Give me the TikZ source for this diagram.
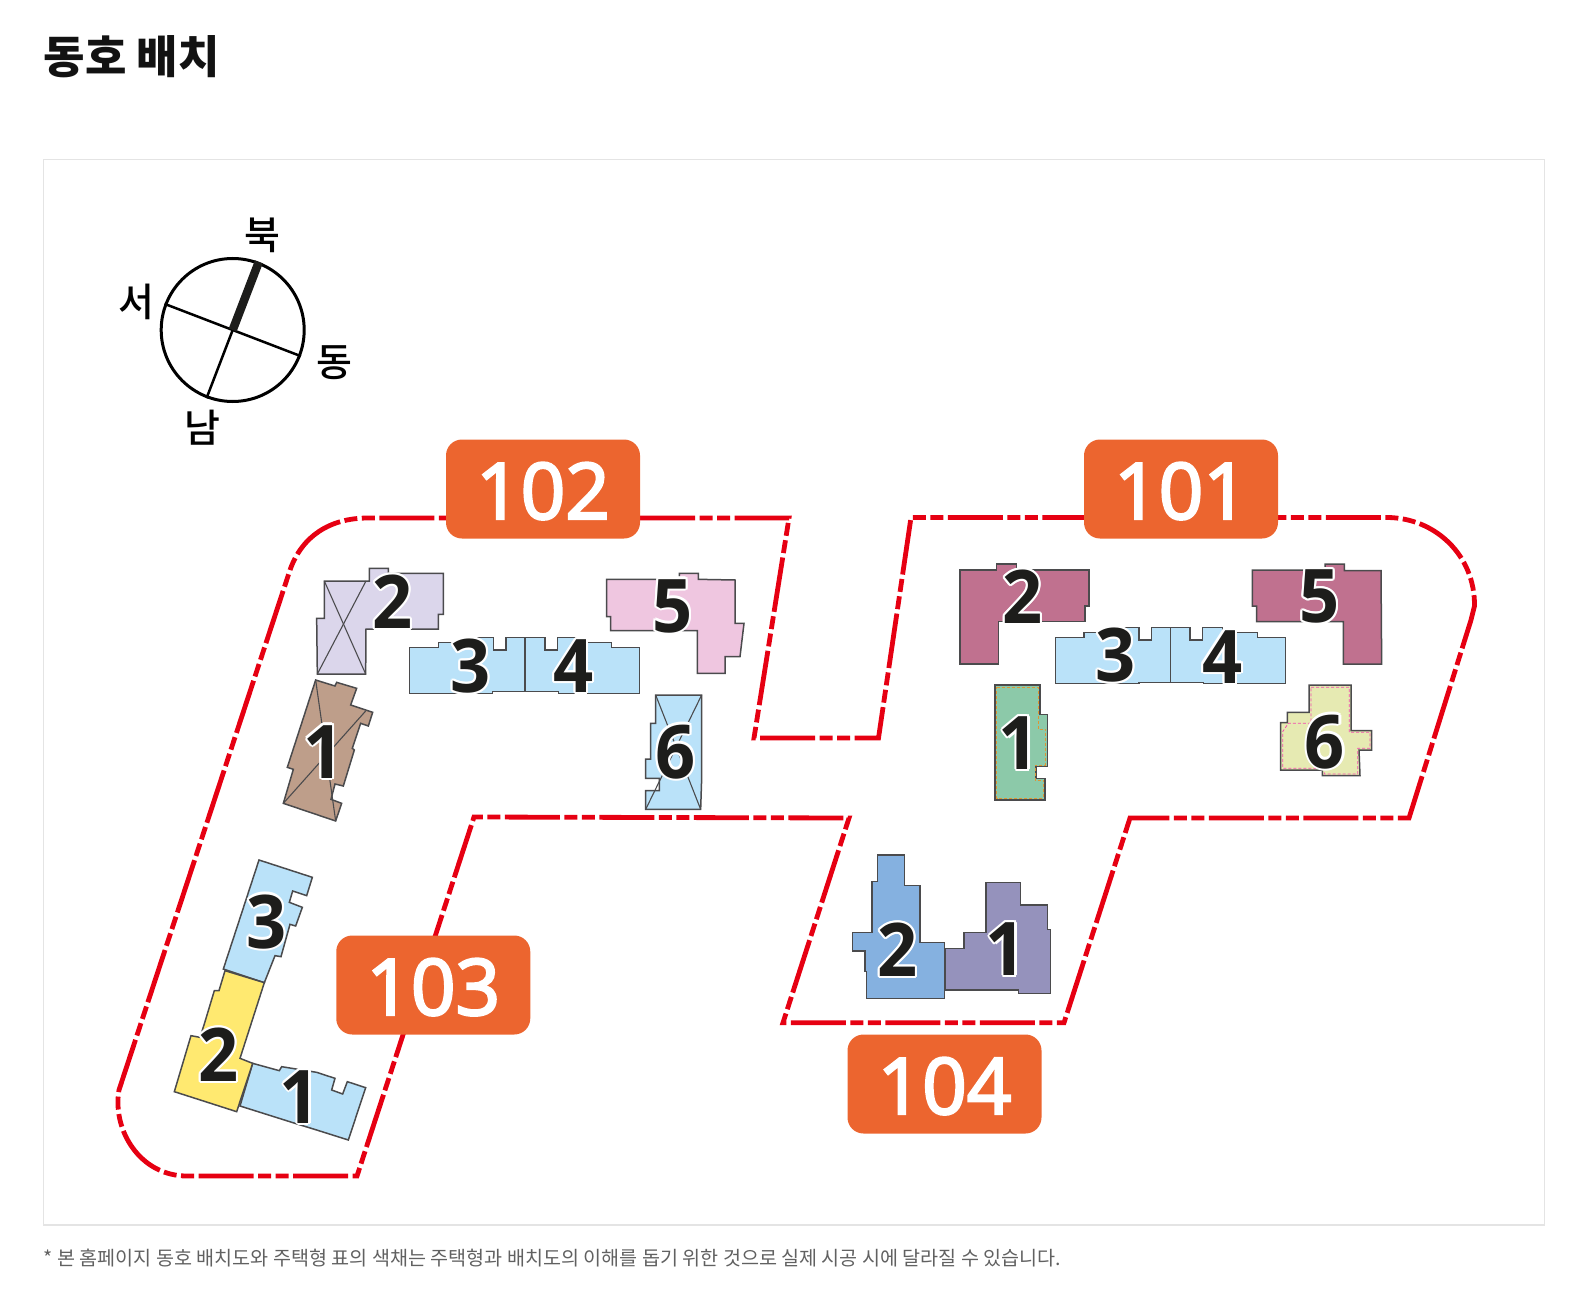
\documentclass[tikz,border=0pt]{standalone}
\usepackage{fontspec}
\setmainfont{Open Sans}
\newfontfamily\krfont{Noto Sans CJK KR}
\newfontfamily\krmedium{Noto Sans CJK KR Medium}
\newfontfamily\numfont{Open Sans}[FakeStretch=0.95]
\newfontfamily\badgefont{Open Sans}[FakeBold=3]
\usetikzlibrary{shapes,arrows}
\definecolor{siteline}{HTML}{E60012}
\definecolor{badgeorange}{HTML}{EC652F}
\definecolor{frameline}{HTML}{E4E4E4}
\definecolor{bldgedge}{HTML}{4B4B4D}
\definecolor{numink}{HTML}{1D1D1B}
\definecolor{skyblue}{HTML}{BAE2F9}
\definecolor{lavender}{HTML}{DBD6EB}
\definecolor{brownish}{HTML}{BE9E8A}
\definecolor{pinkish}{HTML}{EFC6E0}
\definecolor{mauve}{HTML}{C0718F}
\definecolor{greenish}{HTML}{8CC9A9}
\definecolor{limeish}{HTML}{E6EAB2}
\definecolor{yellowish}{HTML}{FFE970}
\definecolor{bluish}{HTML}{85B1E0}
\definecolor{purplish}{HTML}{9592BC}
\tikzstyle{bldg} = [draw=bldgedge, line width=1.5pt, line join=miter]
\tikzstyle{ridge} = [draw=bldgedge, line width=1.1pt]
\tikzstyle{siteedge} = [draw=siteline, line width=4.8pt, dash pattern=on 55pt off 4.5pt on 13pt off 4.5pt on 13pt off 4.5pt]
\tikzstyle{badge} = [fill=badgeorange, rounded corners=16pt, minimum width=194pt, minimum height=99pt, text=white, inner sep=0pt, text height=60pt, text depth=0pt, font=\badgefont\fontsize{78}{78}\selectfont]
\tikzstyle{numtext} = [inner sep=0pt, text=numink, font=\numfont\bfseries\fontsize{74}{74}\selectfont]
\tikzstyle{numhalo} = [numtext, text=white]
\tikzstyle{compasslabel} = [inner sep=0pt, text=black, font=\krmedium\fontsize{39}{39}\selectfont]
\newcommand{\bldgnum}[3]{
   \foreach \a in {0,30,...,330}
      \node[numhalo] at ([shift={(\a:6.5)}]#2) {#3};
   \node[numtext] (#1) at (#2) {#3};
}
\begin{document}
\begin{tikzpicture}[x=1pt, y=-1pt]
   \useasboundingbox (0,0) rectangle (1581,1313);
   \node[anchor=west, inner sep=0pt, text=black!93, font=\krfont\bfseries\fontsize{45}{45}\selectfont] (title) at (43.5,56.5) {동호 배치};
   \draw[frameline, line width=1.3pt] (43.5,159.5) rectangle (1544.5,1225);
   \node[anchor=west, inner sep=0pt, text=black!62, font=\krfont\fontsize{19.6}{19.6}\selectfont] (note) at (43.5,1258) {* 본 홈페이지 동호 배치도와 주택형 표의 색채는 주택형과 배치도의 이해를 돕기 위한 것으로 실제 시공 시에 달라질 수 있습니다.};

   \node[circle, draw=black, line width=3pt, minimum size=143pt, inner sep=0pt] (dial) at (232.7,330) {};
   \draw[black, line width=2.5pt] (dial.339) -- (dial.159);
   \draw[black, line width=2.5pt] (dial.center) -- (dial.249);
   \draw[numink, line width=8.5pt] (dial.center) -- (dial.69);
   \node[compasslabel] (north) at (262,235) {북};
   \node[compasslabel] (west) at (136,302) {서};
   \node[compasslabel] (east) at (334,363) {동};
   \node[compasslabel] (south) at (202,428) {남};

   \draw[siteedge] (640,518) -- (789,518) -- (754,738) -- (878.5,738) -- (911,517.5) -- (1387.7,517.5)
      .. controls (1435,518) and (1475,555) .. (1474.5,606) -- (1471,620) -- (1409,818) -- (1130,818)
      -- (1064,1022.7) -- (783,1022.7) -- (849,818) -- (474,817) -- (357,1176) -- (187,1176)
      .. controls (140,1176) and (112,1130) .. (119,1090) -- (290,570)
      .. controls (302,536) and (330,518) .. (368,518) -- cycle;

   \begin{scope}[shift={(100,530)}, scale=1/3]
      \filldraw[bldg, fill=lavender] (673,153) -- (808,153) -- (808,115) -- (865,115) -- (865,130) -- (1030,130) -- (1030,253) -- (1015,253) -- (1015,297) -- (798,297) -- (797,432) -- (652,432) -- (650,265) -- (673,265) -- cycle;
      \draw[ridge] (673,153) -- (797,432);
      \draw[ridge] (798,153) -- (652,432);
      \filldraw[bldg, fill=brownish] (647,450) -- (705,468) -- (710,457) -- (770,475) -- (752,525) -- (818,547) -- (805,588) -- (782,580) -- (757,655) -- (763,660) -- (730,768) -- (705,762) -- (693,808) -- (725,820) -- (707,873) -- (550,820) -- (580,718) -- (562,712) -- cycle;
      \draw[ridge] (647,450) -- (707,873);
      \draw[ridge] (550,820) -- (797,543);
      \bldgnum{a2}{878,215}{2}
      \bldgnum{a1}{671,665}{1}
   \end{scope}

   \begin{scope}[shift={(400,540)}, scale=1/3]
      \filldraw[bldg, fill=skyblue] (28,322) -- (115,322) -- (115,307) -- (232,307) -- (232,292) -- (280,292) -- (280,330) -- (318,330) -- (318,292) -- (435,292) -- (435,330) -- (472,330) -- (472,292) -- (530,292) -- (530,307) -- (635,307) -- (635,322) -- (718,322) -- (718,460) -- (475,460) -- (475,455) -- (278,455) -- (278,460) -- (28,460) -- cycle;
      \draw[ridge] (375,292) -- (375,455);
      \filldraw[bldg, fill=pinkish] (620,118) -- (838,118) -- (838,100) -- (895,100) -- (895,118) -- (1005,120) -- (1005,250) -- (1032,250) -- (1020,350) -- (975,350) -- (975,400) -- (892,400) -- (892,272) -- (632,272) -- (632,230) -- (620,230) -- cycle;
      \filldraw[bldg, fill=skyblue] (767,465) -- (905,465) -- (905,715) -- (902,808) -- (737,808) -- (737,752) -- (778,752) -- (778,715) -- (737,715) -- (737,657) -- (752,657) -- (752,550) -- (767,550) -- cycle;
      \draw[ridge] (767,465) -- (902,808);
      \draw[ridge] (905,465) -- (737,808);
      \bldgnum{a3}{212,378}{3}
      \bldgnum{a4}{520,378}{4}
      \bldgnum{a5}{818,198}{5}
      \bldgnum{a6}{827,635}{6}
   \end{scope}

   \begin{scope}[shift={(930,540)}, scale=1/3]
      \filldraw[bldg, fill=mauve] (90,90) -- (200,90) -- (200,72) -- (260,72) -- (260,90) -- (477,90) -- (477,198) -- (465,198) -- (465,245) -- (205,245) -- (205,372) -- (90,372) -- cycle;
      \filldraw[bldg, fill=mauve] (967,90) -- (1185,90) -- (1185,72) -- (1243,72) -- (1243,92) -- (1353,92) -- (1355,372) -- (1240,372) -- (1240,245) -- (980,245) -- (980,198) -- (967,198) -- cycle;
      \filldraw[bldg, fill=skyblue] (377,293) -- (462,293) -- (462,278) -- (585,278) -- (585,262) -- (627,262) -- (627,300) -- (665,300) -- (665,262) -- (780,262) -- (780,300) -- (818,300) -- (818,262) -- (877,262) -- (877,278) -- (982,278) -- (982,293) -- (1067,293) -- (1067,430) -- (820,430) -- (820,427) -- (627,427) -- (627,430) -- (377,430) -- cycle;
      \draw[ridge] (722,262) -- (722,427);
      \filldraw[bldg, fill=greenish] (195,435) -- (330,435) -- (330,523) -- (352,523) -- (352,680) -- (318,680) -- (318,715) -- (345,715) -- (345,780) -- (195,780) -- cycle;
      \draw[orange!70!greenish, densely dashed, line width=0.8pt] (200,442) -- (325,442) -- (325,568) -- (347,568) -- (347,675) -- (315,675) -- (315,720) -- (340,720) -- (340,775) -- (200,775) -- cycle;
      \filldraw[bldg, fill=limeish] (1137,435) -- (1263,435) -- (1263,572) -- (1325,572) -- (1325,630) -- (1287,630) -- (1290,707) -- (1177,707) -- (1177,690) -- (1052,690) -- (1052,548) -- (1072,548) -- (1072,517) -- (1137,517) -- cycle;
      \draw[magenta!70, densely dashed, line width=0.8pt] (1143,442) -- (1258,442) -- (1258,577) -- (1320,577) -- (1320,625) -- (1283,625) -- (1283,702) -- (1183,702) -- (1183,685) -- (1058,685) -- (1058,575) -- (1075,550) -- (1143,550) -- cycle;
      \bldgnum{b2}{278,170}{2}
      \bldgnum{b5}{1168,170}{5}
      \bldgnum{b3}{557,345}{3}
      \bldgnum{b4}{877,350}{4}
      \bldgnum{b1}{267,610}{1}
      \bldgnum{b6}{1185,605}{6}
   \end{scope}

   \begin{scope}[shift={(110,840)}, scale=1/3]
      \filldraw[bldg, fill=skyblue] (428,670) -- (508,692) -- (515,680) -- (620,697) -- (675,715) -- (665,750) -- (698,762) -- (712,725) -- (767,743) -- (715,900) -- (620,870) -- (555,850) -- (390,798) -- cycle;
      \filldraw[bldg, fill=skyblue] (447,60) -- (607,112) -- (590,167) -- (548,153) -- (538,187) -- (577,202) -- (557,258) -- (540,253) -- (513,350) -- (495,347) -- (463,428) -- (340,387) -- cycle;
      \filldraw[bldg, fill=yellowish] (345,392) -- (463,428) -- (390,655) -- (428,670) -- (380,815) -- (193,755) -- (243,587) -- (270,592) -- (282,555) -- (313,452) -- (327,452) -- cycle;
      \bldgnum{c3}{470,245}{3}
      \bldgnum{c2}{325,645}{2}
      \bldgnum{c1}{570,770}{1}
   \end{scope}

   \begin{scope}[shift={(770,830)}, scale=1/3]
      \filldraw[bldg, fill=purplish] (525,355) -- (582,355) -- (582,308) -- (648,308) -- (648,158) -- (752,158) -- (752,225) -- (832,225) -- (832,298) -- (842,298) -- (842,490) -- (745,490) -- (745,480) -- (525,480) -- cycle;
      \filldraw[bldg, fill=bluish] (323,75) -- (403,75) -- (403,167) -- (450,167) -- (450,337) -- (523,337) -- (523,505) -- (290,505) -- (290,425) -- (285,425) -- (285,363) -- (248,363) -- (248,307) -- (306,307) -- (306,155) -- (323,155) -- cycle;
      \bldgnum{d2}{382,360}{2}
      \bldgnum{d1}{708,358}{1}
   \end{scope}

   \node[badge] (b102) at (543,489) {102};
   \node[badge] (b101) at (1181,489) {101};
   \node[badge] (b103) at (433.25,985) {103};
   \node[badge] (b104) at (944.5,1084) {104};
\end{tikzpicture}
\end{document}
